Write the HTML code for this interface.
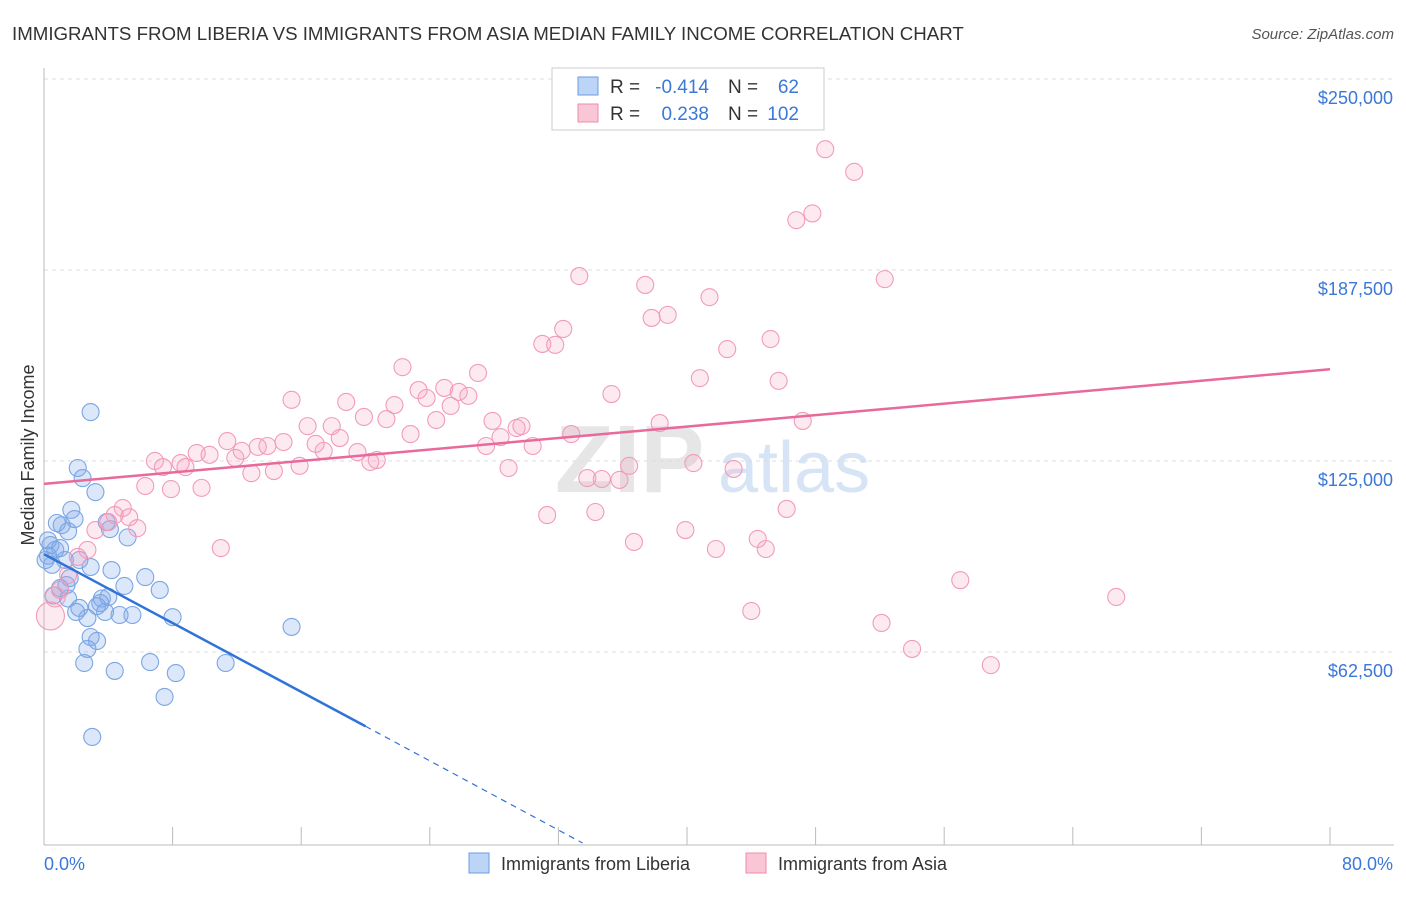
<!DOCTYPE html>
<html><head><meta charset="utf-8"><style>
body{margin:0;background:#fff;font-family:"Liberation Sans",sans-serif}
svg text{font-family:"Liberation Sans",sans-serif}
</style></head><body>
<svg id="c" width="1406" height="892">
<text x="12" y="40" font-size="18.7" fill="#333">IMMIGRANTS FROM LIBERIA VS IMMIGRANTS FROM ASIA MEDIAN FAMILY INCOME CORRELATION CHART</text>
<text x="1394" y="39" font-size="15" fill="#555" text-anchor="end" font-style="italic">Source: ZipAtlas.com</text>
<text x="555" y="492" font-size="96" fill="#e6e6e6" font-family="Liberation Serif" font-weight="bold">ZIP</text>
<text x="718" y="492" font-size="72" fill="#d6e4f5">atlas</text>
<g id="grid"></g><g id="axes"></g><g id="pts"></g><g id="lines"></g>
<text x="34" y="455" font-size="18" fill="#333" transform="rotate(-90 34 455)" text-anchor="middle">Median Family Income</text>
<text x="44" y="870" font-size="18" fill="#3b78d8">0.0%</text>
<text x="1393" y="870" font-size="18" fill="#3b78d8" text-anchor="end">80.0%</text>
<g>
<rect x="552" y="68" width="272" height="62" fill="#fff" stroke="#ccc"/>
<rect x="578" y="77" width="20" height="18" fill="#bcd4f5" stroke="#6a9be0"/>
<rect x="578" y="104" width="20" height="18" fill="#f9c6d6" stroke="#f08aac"/>
<text x="610" y="93" font-size="19" fill="#333">R =</text>
<text x="709" y="93" font-size="19" fill="#3b78d8" text-anchor="end">-0.414</text>
<text x="728" y="93" font-size="19" fill="#333">N =</text>
<text x="799" y="93" font-size="19" fill="#3b78d8" text-anchor="end">62</text>
<text x="610" y="120" font-size="19" fill="#333">R =</text>
<text x="709" y="120" font-size="19" fill="#3b78d8" text-anchor="end">0.238</text>
<text x="728" y="120" font-size="19" fill="#333">N =</text>
<text x="799" y="120" font-size="19" fill="#3b78d8" text-anchor="end">102</text>
</g>
<g>
<rect x="469" y="853" width="20" height="20" fill="#bcd4f5" stroke="#6a9be0"/>
<text x="501" y="870" font-size="18" fill="#333">Immigrants from Liberia</text>
<rect x="746" y="853" width="20" height="20" fill="#f9c6d6" stroke="#f08aac"/>
<text x="778" y="870" font-size="18" fill="#333">Immigrants from Asia</text>
</g>
</svg>
<script>
const yTicks=[62500,125000,187500,250000];
const yTickLabels=["$62,500","$125,000","$187,500","$250,000"];
const xTicks=[0,8,16,24,32,40,48,56,64,72,80];
const liberiaX=[2.9,2.1,2.4,3.2,1.7,1.9,0.8,1.1,1.5,4.1,3.9,5.2,0.4,0.7,1.0,0.25,1.3,2.2,2.9,0.5,4.2,6.3,1.6,1.4,5.0,7.2,1.0,0.6,1.5,3.6,4.0,3.5,3.3,2.2,2.0,3.8,4.7,5.5,2.7,8.0,15.4,2.9,3.3,2.7,2.5,6.6,11.3,4.4,8.2,7.5,3.0,0.1,0.25];
const liberiaY=[141,122.7,119.4,114.8,109,106,104.7,104,102,102.7,105,100,97.5,95.9,96.5,94,92.6,92.6,90.3,91,89.3,87,86.7,84.4,84.1,82.8,83.4,81,80,80,80.5,78.5,77.5,76.9,75.6,75.6,74.6,74.6,73.6,73.9,70.7,67.4,66.1,63.5,58.9,59.2,58.9,56.3,55.6,47.8,34.7,92.6,99];
const asiaX=[48.6,50.4,47.8,46.8,33.3,52.3,37.4,41.4,38.8,37.8,32.3,31.0,31.8,45.2,42.5,22.3,27.0,40.8,45.7,24.9,23.3,25.8,26.4,23.8,35.3,15.4,18.8,21.8,25.3,19.9,21.3,24.4,27.9,47.2,38.3,16.4,17.9,29.4,29.7,22.8,28.4,32.8,18.4,11.4,14.9,16.9,27.5,13.3,13.9,30.4,12.3,17.4,19.5,9.5,10.3,11.9,6.9,8.5,20.7,20.3,15.9,7.4,8.8,36.4,40.4,42.9,28.9,14.3,12.9,33.8,34.7,35.8,6.3,7.9,9.8,4.9,34.3,31.3,46.2,4.4,5.3,4.0,5.8,3.2,39.9,36.7,44.4,41.8,44.9,11.0,2.7,2.1,1.5,57.0,1.0,66.7,44.0,52.1,54.0,58.9,0.4,0.7];
const asiaY=[227,219.6,206,203.8,185.5,184.5,182.6,178.6,172.8,171.8,168.2,163.3,163,164.9,161.6,155.7,153.8,152.1,151.2,148.9,148.2,147.6,146.3,145.6,146.9,145,144.3,143.3,143,139.4,138.7,138.4,138.1,138.1,137.4,136.4,136.4,135.8,136.4,133.8,132.8,133.8,132.5,131.5,131.2,130.6,129.9,129.6,129.9,129.9,128.3,128.3,127.9,127.6,127,126,125,124.3,125.3,124.7,123.4,123,123,123.4,124.3,122.4,122.7,121.7,121,119.4,119.1,118.8,116.8,115.8,116.2,109.6,108.3,107.3,109.3,107.3,106.6,105,103,102.4,102.4,98.5,99.5,96.2,96.2,96.5,95.9,93.6,87.7,86,82.8,80.5,75.9,72,63.5,58.2,74.3,80.5];
const liberiaTrend=[[0,94.5],[20,38.2],[33.5,0]];
const asiaTrend=[[0,117.5],[80,155]];
const X=v=>44+v*16.075, Y=k=>843-k/0.3272;
const NS="http://www.w3.org/2000/svg";
function mk(t,a,p){const e=document.createElementNS(NS,t);for(const k in a)e.setAttribute(k,a[k]);p.appendChild(e);return e;}
const grid=document.getElementById('grid'),axes=document.getElementById('axes'),pts=document.getElementById('pts'),lines=document.getElementById('lines');
yTicks.forEach((v,i)=>{
 const l=mk('line',{x1:44,x2:1394,y1:Y(v/1000),y2:Y(v/1000),stroke:'#ddd','stroke-dasharray':'4,4'},grid);
 
 
 const t=mk('text',{x:1393,y:Y(v/1000)+25,'font-size':18,fill:'#3b78d8','text-anchor':'end'},grid);
 t.textContent=yTickLabels[i];
 
 
});
const ax=mk('line',{x1:44,x2:1394,y1:845,y2:845,stroke:'#bbb'},axes);


const ay=mk('line',{x1:44,x2:44,y1:68,y2:845,stroke:'#bbb'},axes);


xTicks.forEach(v=>{
 const t=mk('line',{x1:X(v),x2:X(v),y1:827,y2:845,stroke:'#bbb'},axes);
 
 
});
liberiaX.forEach((x,i)=>{
 const c=mk('circle',{cx:X(x),cy:Y(liberiaY[i]),r:8.5,fill:'rgba(130,170,235,0.28)',stroke:'#7aa6e4','stroke-width':1.1},pts);
 
 
});
asiaX.forEach((x,i)=>{
 const c=mk('circle',{cx:X(x),cy:Y(asiaY[i]),r:i>=100?(i==100?14:10):8.5,fill:'rgba(245,160,190,0.22)',stroke:'#f29bb8','stroke-width':1.1},pts);
 
 
});
const bl=mk('line',{x1:X(liberiaTrend[0][0]),y1:Y(liberiaTrend[0][1]),x2:X(liberiaTrend[1][0]),y2:Y(liberiaTrend[1][1]),stroke:'#2f73d8','stroke-width':2.5},lines);


const bd=mk('line',{x1:X(liberiaTrend[1][0]),y1:Y(liberiaTrend[1][1]),x2:X(liberiaTrend[2][0]),y2:Y(liberiaTrend[2][1]),stroke:'#2f73d8','stroke-width':1.2,'stroke-dasharray':'6,5'},lines);


const pl=mk('line',{x1:X(asiaTrend[0][0]),y1:Y(asiaTrend[0][1]),x2:X(asiaTrend[1][0]),y2:Y(asiaTrend[1][1]),stroke:'#e8699a','stroke-width':2.5},lines);


</script>
</body></html>
